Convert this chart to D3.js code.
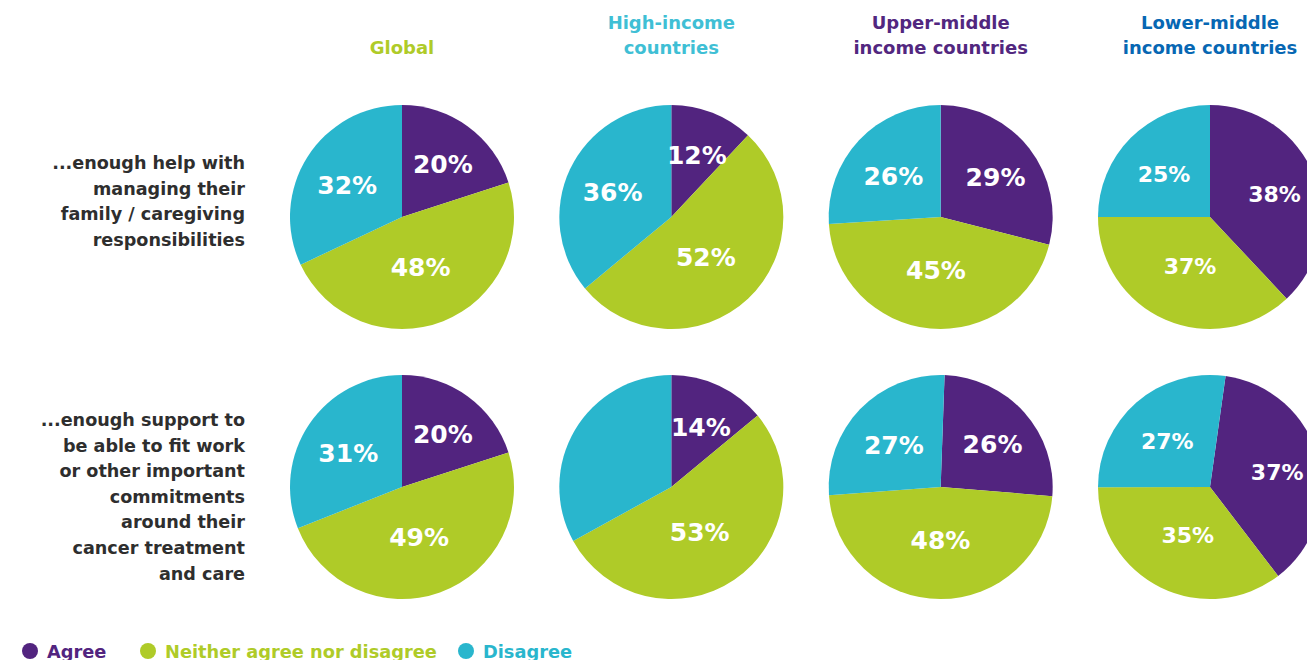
<!DOCTYPE html>
<html>
<head>
<meta charset="utf-8">
<script src="https://cdn.jsdelivr.net/npm/d3@7"></script>
<style>
  body { margin: 0; background: #fff; }
  svg { display: block; font-family: "DejaVu Sans", Verdana, sans-serif; font-weight: bold; }
</style>
</head>
<body>
<div id="pies"></div>
<script>
// groups (columns) and the two questions (rows)
const groups = ["Global", "High-income\ncountries", "Upper-middle\nincome countries", "Lower-middle\nincome countries"];
const questions = [
  ["...enough help with", "managing their", "family / caregiving", "responsibilities"],
  ["...enough support to", "be able to fit work", "or other important", "commitments", "around their", "cancer treatment", "and care"]
];
const seriesNames = ["Agree", "Neither agree nor disagree", "Disagree"];

// values per row, one entry per group
const agreeRow1    = [20, 12, 29, 38];
const neitherRow1  = [48, 52, 45, 37];
const disagreeRow1 = [32, 36, 26, 25];

const agreeRow2    = [20, 14, 26, 37];
const neitherRow2  = [49, 53, 48, 35];
const disagreeRow2 = [31, 33, 27, 27];

// labels not printed in the original (row, group, series)
const hiddenLabels = [[1, 1, 2]];
// pie rotation in degrees (some pies in row 2 are turned slightly)
const rotationRow1 = [0, 0, 0, 0];
const rotationRow2 = [0, 0, 2, 8];

const rows = [
  {agree: agreeRow1, neither: neitherRow1, disagree: disagreeRow1, rot: rotationRow1},
  {agree: agreeRow2, neither: neitherRow2, disagree: disagreeRow2, rot: rotationRow2}
];

const width = 1307, height = 660;
const colors = d3.scaleOrdinal().domain(seriesNames).range(["#52247f", "#afcb28", "#29b6cd"]);
const titleColors = ["#afcb28", "#3fbfd5", "#52277f", "#0767b3"];

const svg = d3.select("#pies").append("svg")
  .attr("width", width)
  .attr("height", height);

// column & row positions
const x = d3.scalePoint().domain(d3.range(groups.length)).range([402, 1210]);
const y = d3.scalePoint().domain([0, 1]).range([217, 487]);
const radius = 112;

// column titles
groups.forEach((g, i) => {
  const lines = g.split("\n");
  const t = svg.append("text")
    .attr("x", x(i))
    .attr("text-anchor", "middle")
    .attr("fill", titleColors[i])
    .style("font-size", "18px");
  lines.forEach((l, j) => {
    t.append("tspan")
      .attr("x", x(i))
      .attr("y", lines.length === 1 ? 54 : 29 + j * 25)
      .text(l);
  });
});

// row labels
const rowLabelTop = [169, 426];
questions.forEach((q, r) => {
  const t = svg.append("text")
    .attr("text-anchor", "end")
    .attr("fill", "#2e2e2e")
    .style("font-size", "17.6px");
  q.forEach((l, j) => {
    t.append("tspan")
      .attr("x", 245)
      .attr("y", rowLabelTop[r] + j * 25.6)
      .text(l);
  });
});

const pie = d3.pie().sort(null).value(d => d.value);
const arc = d3.arc().innerRadius(0).outerRadius(radius);
// label distance from the centre, per series
const labelRadius = d3.scaleOrdinal().domain(seriesNames).range([0.62, 0.45, 0.58]);

rows.forEach((row, r) => {
  groups.forEach((g, i) => {
    const data = [
      {name: seriesNames[0], value: row.agree[i]},
      {name: seriesNames[1], value: row.neither[i]},
      {name: seriesNames[2], value: row.disagree[i]}
    ];
    const rot = row.rot[i] * Math.PI / 180;
    pie.startAngle(rot).endAngle(rot + 2 * Math.PI);
    const arcs = pie(data);

    const gp = svg.append("g")
      .attr("transform", "translate(" + x(i) + "," + y(r) + ")");

    gp.selectAll("path")
      .data(arcs)
      .enter()
      .append("path")
      .attr("d", arc)
      .attr("fill", d => colors(d.data.name));

    gp.selectAll("text")
      .data(arcs.filter((d, k) => !hiddenLabels.some(h => h[0] === r && h[1] === i && h[2] === k)))
      .enter()
      .append("text")
      .attr("transform", d => {
        const lr = labelRadius(d.data.name) * radius;
        const a = (d.startAngle + d.endAngle) / 2;
        return "translate(" + (Math.sin(a) * lr) + "," + (-Math.cos(a) * lr + 3) + ")";
      })
      .attr("text-anchor", "middle")
      .attr("dy", "0.36em")
      .attr("fill", "#fff")
      .style("font-size", i === 3 ? "22px" : "25px")
      .text(d => d.data.value + "%");
  });
});

// legend
const legendX = [30, 148, 466];
const legend = svg.append("g").attr("transform", "translate(0,651)");
seriesNames.forEach((s, k) => {
  legend.append("circle")
    .attr("cx", legendX[k])
    .attr("cy", 0)
    .attr("r", 8)
    .attr("fill", colors(s));
  legend.append("text")
    .attr("x", legendX[k] + 17)
    .attr("y", 6.5)
    .attr("fill", colors(s))
    .style("font-size", "17.8px")
    .text(s);
});
</script>
</body>
</html>
